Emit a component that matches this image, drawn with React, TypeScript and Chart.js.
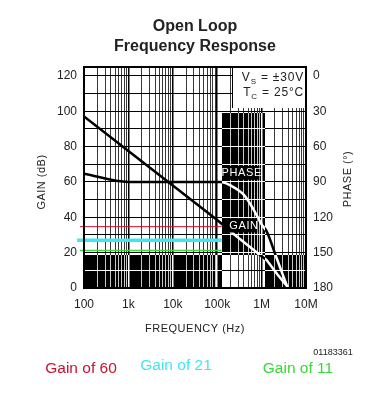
import React, { useEffect, useRef } from 'react';
import { Chart, registerables } from 'chart.js';

Chart.register(...registerables);

// ---- data ----
const gainFreq = [100, 1000, 10000, 100000, 250000, 1000000, 1300000, 2300000, 3900000];
const gainDb = [97, 77.5, 58, 38.5, 30, 18, 15.8, 7.5, 0.5];

const phaseFreq = [100, 1000, 120000, 200000, 400000, 650000, 1000000, 1300000, 2200000, 3700000];
const phaseDeg = [83, 90, 90, 93, 101, 113, 126, 132, 155, 178];

const closedLabels = ['Gain of 60', 'Gain of 21', 'Gain of 11'];
const closedDb = [34.7, 27, 21.3];
const closedStartFreq = [81, 70, 81];
const closedColors = ['#cc1030', '#40e8ee', '#38d838'];
const closedWidths = [1, 3.5, 1.2];

const freqMajor = [100, 1000, 10000, 100000, 1000000, 10000000];
const freqLabels = ['100', '1k', '10k', '100k', '1M', '10M'];
const gainGrid = [0, 10, 20, 30, 40, 50, 60, 70, 80, 90, 100, 110, 120];
const phaseTicks = [0, 30, 60, 90, 120, 150, 180];

// shaded regions (freq / dB)
const bandTopDb = 18.7;
const boxFreq = [126000, 1190000];
const boxTopDb = 99;
const condBoxFreq = 215000;
const condBoxDb = 101.7;

const FONT = '"Liberation Sans", Arial, sans-serif';

const freqGrid: number[] = [];
for (let d = 0; d < freqMajor.length - 1; d++) {
  for (let m = 1; m <= 9; m++) freqGrid.push(freqMajor[d] * m);
}
freqGrid.push(freqMajor[freqMajor.length - 1]);

const decor = {
  id: 'decor',
  beforeDraw(chart: any) {
    const { ctx, width, height } = chart;
    ctx.save();
    ctx.fillStyle = '#fff';
    ctx.fillRect(0, 0, width, height);
    ctx.restore();
  },
  afterDatasetsDraw(chart: any) {
    const { ctx, chartArea: a, scales } = chart;
    const x = scales.x, y = scales.y;
    ctx.save();
    ctx.globalCompositeOperation = 'difference';
    ctx.fillStyle = '#fff';
    const bandTop = Math.round(y.getPixelForValue(bandTopDb));
    ctx.fillRect(a.left, bandTop, a.right - a.left, a.bottom - bandTop);
    const bx0 = Math.round(x.getPixelForValue(boxFreq[0]));
    const bx1 = Math.round(x.getPixelForValue(boxFreq[1]));
    const by0 = Math.round(y.getPixelForValue(boxTopDb));
    ctx.fillRect(bx0, by0, bx1 - bx0, a.bottom - by0);
    ctx.restore();
  },
  afterDraw(chart: any) {
    const { ctx, chartArea: a, scales } = chart;
    const x = scales.x, y = scales.y;
    ctx.save();
    const bx0 = Math.round(x.getPixelForValue(boxFreq[0]));

    // PHASE label
    ctx.fillStyle = '#000';
    const pY0 = y.getPixelForValue(69), pY1 = y.getPixelForValue(61.2);
    const pX1 = x.getPixelForValue(890000);
    ctx.fillRect(bx0, pY0, pX1 - bx0, pY1 - pY0);
    ctx.fillStyle = '#fff';
    ctx.font = `11px ${FONT}`;
    (ctx as any).letterSpacing = '0.6px';
    ctx.textAlign = 'center';
    ctx.textBaseline = 'middle';
    ctx.fillText('PHASE', (bx0 + pX1) / 2 + 1, (pY0 + pY1) / 2 + 0.5);

    // GAIN label
    ctx.fillStyle = '#000';
    const gY0 = y.getPixelForValue(39.4), gY1 = y.getPixelForValue(31.4);
    const gX1 = x.getPixelForValue(800000);
    ctx.fillRect(bx0, gY0, gX1 - bx0, gY1 - gY0);
    ctx.fillStyle = '#fff';
    ctx.fillText('GAIN', 244, (gY0 + gY1) / 2 + 0.5);

    // conditions box
    const cx0 = Math.round(x.getPixelForValue(condBoxFreq)) + 0.5;
    const cy1 = Math.round(y.getPixelForValue(condBoxDb));
    ctx.fillStyle = '#fff';
    ctx.fillRect(cx0, a.top, a.right - cx0, cy1 - a.top);
    ctx.strokeStyle = '#000';
    ctx.lineWidth = 1;
    ctx.beginPath();
    ctx.moveTo(cx0, a.top);
    ctx.lineTo(cx0, cy1);
    ctx.stroke();

    ctx.fillStyle = '#222';
    ctx.textAlign = 'left';
    ctx.textBaseline = 'alphabetic';
    (ctx as any).letterSpacing = '0.8px';
    const drawSub = (main: string, sub: string, rest: string, right: number, base: number) => {
      ctx.font = `12px ${FONT}`;
      const wMain = ctx.measureText(main).width;
      const wRest = ctx.measureText(rest).width;
      ctx.font = `8px ${FONT}`;
      const wSub = ctx.measureText(sub).width;
      let px = right - wMain - wSub - wRest;
      ctx.font = `12px ${FONT}`;
      ctx.fillText(main, px, base);
      px += wMain;
      ctx.font = `8px ${FONT}`;
      ctx.fillText(sub, px, base + 3);
      px += wSub;
      ctx.font = `12px ${FONT}`;
      ctx.fillText(rest, px, base);
    };
    drawSub('V', 'S', ' = \u00b130V', a.right - 2, 81);
    drawSub('T', 'C', ' = 25\u00b0C', a.right - 2, 96);

    // frame
    ctx.strokeStyle = '#000';
    ctx.lineWidth = 2;
    ctx.strokeRect(a.left, a.top, a.right - a.left, a.bottom - a.top);

    // title
    (ctx as any).letterSpacing = '0px';
    ctx.fillStyle = '#222';
    ctx.textAlign = 'center';
    ctx.textBaseline = 'middle';
    ctx.font = `bold 16px ${FONT}`;
    const cxm = (a.left + a.right) / 2;
    ctx.fillText('Open Loop', cxm, 27);
    ctx.fillText('Frequency Response', cxm, 47);

    // axis titles
    (ctx as any).letterSpacing = '0.5px';
    ctx.font = `11px ${FONT}`;
    ctx.fillStyle = '#222';
    ctx.fillText('FREQUENCY (Hz)', cxm, 329);
    ctx.save();
    ctx.translate(42, 182);
    ctx.rotate(-Math.PI / 2);
    ctx.fillText('GAIN (dB)', 0, 0);
    ctx.restore();
    ctx.save();
    ctx.translate(348, 179);
    ctx.rotate(-Math.PI / 2);
    ctx.fillText('PHASE (\u00b0)', 0, 0);
    ctx.restore();

    // notes
    (ctx as any).letterSpacing = '0px';
    ctx.font = `9px ${FONT}`;
    ctx.fillStyle = '#222';
    ctx.fillText('01183361', 333, 353);
    ctx.font = `15.5px ${FONT}`;
    const noteX = [81, 176, 298];
    const noteY = [369, 366, 369];
    closedLabels.forEach((t, i) => {
      ctx.fillStyle = closedColors[i];
      ctx.fillText(t, noteX[i], noteY[i]);
    });
    ctx.restore();
  },
};

export default function App() {
  const ref = useRef<HTMLCanvasElement>(null);
  useEffect(() => {
    if (!ref.current) return;
    const tickFont = { size: 12, family: FONT };
    const datasets: any[] = [
      {
        data: gainFreq.map((f, i) => ({ x: f, y: gainDb[i] })),
        yAxisID: 'y',
        borderColor: '#000',
        borderWidth: 2.5,
        pointRadius: 0,
        tension: 0,
      },
      {
        data: phaseFreq.map((f, i) => ({ x: f, y: phaseDeg[i] })),
        yAxisID: 'y1',
        borderColor: '#000',
        borderWidth: 2.5,
        pointRadius: 0,
        cubicInterpolationMode: 'monotone',
      },
      ...closedDb.map((db, i) => ({
        data: [
          { x: closedStartFreq[i], y: db },
          { x: boxFreq[0], y: db },
        ],
        yAxisID: 'y',
        borderColor: closedColors[i],
        borderWidth: closedWidths[i],
        pointRadius: 0,
        clip: false,
      })),
    ];
    const chart = new Chart(ref.current, {
      type: 'line',
      data: { datasets },
      options: {
        animation: false,
        responsive: false,
        devicePixelRatio: 1,
        layout: { padding: { top: 67, left: 0, right: 0, bottom: 0 } },
        plugins: { legend: { display: false }, title: { display: false }, tooltip: { enabled: false } },
        scales: {
          x: {
            type: 'logarithmic',
            min: 100,
            max: 10000000,
            afterBuildTicks: (s: any) => {
              s.ticks = freqGrid.map((v) => ({ value: v, major: freqMajor.includes(v) }));
            },
            afterFit: (s: any) => {
              s.height = 113;
            },
            ticks: {
              autoSkip: false,
              maxRotation: 0,
              minRotation: 0,
              padding: 9,
              color: '#222',
              font: tickFont,
              callback: (v: any) => {
                const i = freqMajor.indexOf(Number(v));
                return i >= 0 ? freqLabels[i] : '';
              },
            },
            grid: {
              drawTicks: false,
              color: (c: any) => (c.tick && freqMajor.includes(c.tick.value) ? '#000' : '#3a3a3a'),
              lineWidth: (c: any) => (c.tick && freqMajor.includes(c.tick.value) ? 1.5 : 1),
            },
            border: { display: false },
          },
          y: {
            type: 'linear',
            position: 'left',
            min: 0,
            max: 125,
            afterBuildTicks: (s: any) => {
              s.ticks = gainGrid.map((v) => ({ value: v }));
            },
            afterFit: (s: any) => {
              s.width = 84;
            },
            ticks: {
              padding: 7,
              color: '#222',
              font: tickFont,
              callback: (v: any) => (Number(v) % 20 === 0 ? String(v) : ''),
            },
            grid: { drawTicks: false, color: '#000', lineWidth: 1 },
            border: { display: false },
          },
          y1: {
            type: 'linear',
            position: 'right',
            reverse: true,
            min: -7.5,
            max: 180,
            afterBuildTicks: (s: any) => {
              s.ticks = phaseTicks.map((v) => ({ value: v }));
            },
            afterFit: (s: any) => {
              s.width = 82;
            },
            ticks: { padding: 7, color: '#222', font: tickFont },
            grid: { display: false, drawTicks: false },
            border: { display: false },
          },
        },
      } as any,
      plugins: [decor],
    });
    return () => chart.destroy();
  }, []);
  return (
    <div style={{ position: 'absolute', left: 0, top: 0, width: 388, height: 401 }}>
      <canvas ref={ref} width={388} height={401} style={{ display: 'block' }} />
    </div>
  );
}
